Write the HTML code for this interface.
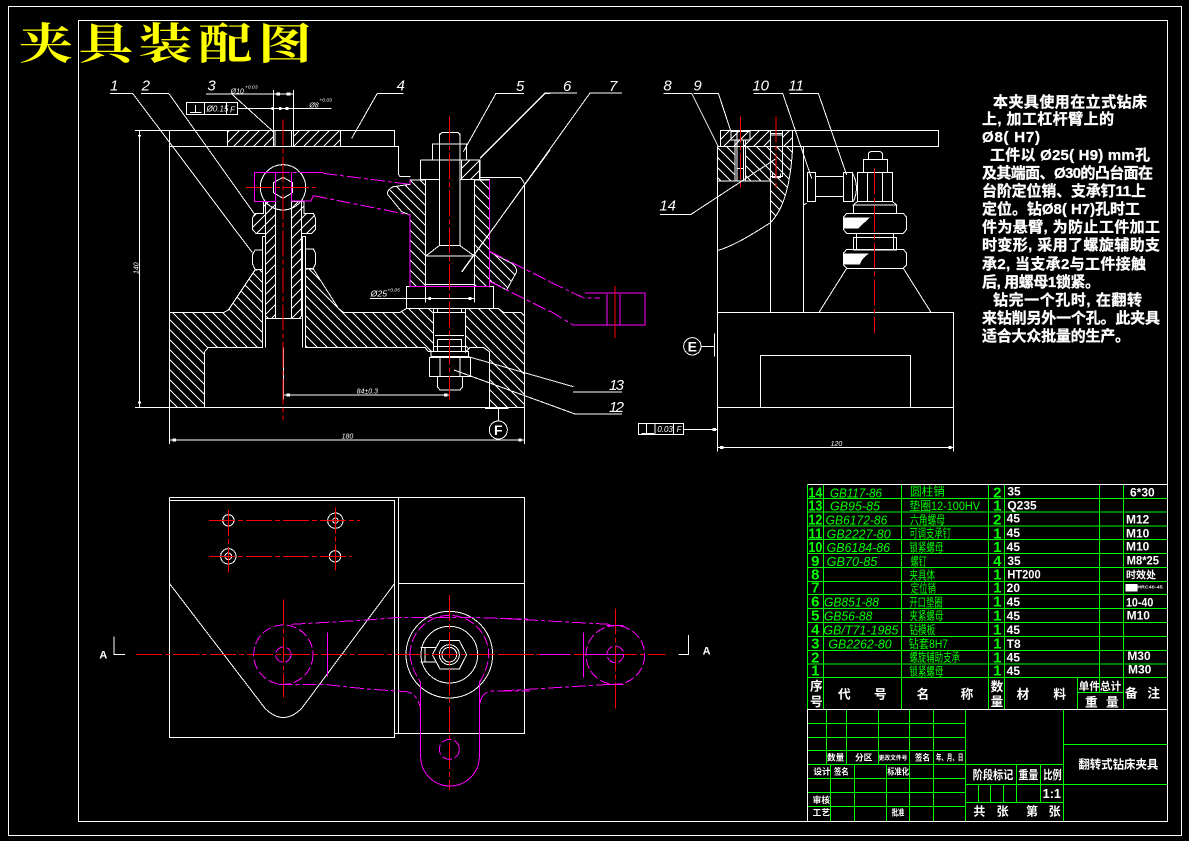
<!DOCTYPE html>
<html><head><meta charset="utf-8"><style>
html,body{margin:0;padding:0;background:#000;width:1189px;height:841px;overflow:hidden}
svg{display:block;position:absolute;left:0;top:0}
.s *{vector-effect:non-scaling-stroke}
.s{fill:none;stroke-width:1;shape-rendering:crispEdges}
.w{stroke:#fff}.m{stroke:#f0f}.r{stroke:#f00}.g{stroke:#0f0}
.md{stroke:#f0f;stroke-dasharray:14 3 4 3}
.rd{stroke:#f00;stroke-dasharray:26 3 5 3}
text{stroke:none;font-family:"Liberation Sans","Noto Sans CJK SC",sans-serif}
.n{fill:#fff;font-size:45px;font-style:italic}
.d{fill:#fff;font-size:21px;font-style:italic}
text.p{fill:#fff;font-size:15px;font-weight:bold;stroke:#fff;stroke-width:.3px}
.gn{fill:#0f0;font-size:45px;font-weight:bold;text-anchor:middle}
.gc{fill:#0f0;font-size:38px;font-style:italic}
.gm{fill:#0f0;font-size:35px}
.wm{fill:#fff;font-size:36px;font-weight:bold}
.wh{fill:#fff;font-size:38px;font-weight:bold}
.wt{fill:#fff;font-size:26px;font-weight:bold}
</style></head><body>
<svg width="1189" height="841" viewBox="0 0 1189 841">
<defs>
<pattern id="h1" patternUnits="userSpaceOnUse" width="30" height="30"><path d="M0 0L30 30M-3 27L3 33M27 -3L33 3" stroke="#fff" stroke-width="3" fill="none" shape-rendering="crispEdges"/></pattern>
<pattern id="h2" patternUnits="userSpaceOnUse" width="30" height="30"><path d="M0 30L30 0M-3 3L3 -3M27 33L33 27" stroke="#fff" stroke-width="3" fill="none" shape-rendering="crispEdges"/></pattern>
</defs>
<rect width="1189" height="841" fill="#000"/>
<g class="s">
<rect class="w" x="8.5" y="6.5" width="1173" height="829"/>
<rect class="w" x="78.5" y="20.5" width="1089" height="801"/>
</g>
<text transform="translate(19 59) scale(1 .8)" fill="#ff0" style="font-family:'Noto Serif CJK SC',serif;font-size:54px;font-weight:bold" textLength="293">夹具装配图</text>

<!-- FRONT VIEW -->
<g class="s" transform="translate(100 70) scale(.33333)">
<path class="w" fill="url(#h2)" d="M382 181H520V229H382ZM580 181H722V229H580Z"/>
<path class="w" fill="url(#h1)" d="M208 727H372L385 720L465 600L487 598V832H325L314 845V1012H208Z"/>
<path class="w" fill="url(#h1)" d="M617 597L640 597L715 715L730 727H900L920 715H1000V845H985L975 832H617ZM1097 715H1195L1210 727H1262L1273 738V1012H1168V845L1150 832H1110L1097 845Z"/>
<path class="w" fill="url(#h2)" d="M497 395H527V745H505L497 738ZM575 395H605V738L597 745H575Z"/>
<path class="w" fill="url(#h2)" d="M490 395V430H465L457 445V478L468 490H497V395ZM605 395V490H635L647 478V445L640 430H612V395Z"/>
<path class="w" d="M457 555L465 540H487V598H465L457 580ZM617 537H640L647 550V580L640 595H617Z"/>
<path class="w" d="M487 500H497V832M487 500V832M607 500H617V832M607 500V832M497 745H605M527 395V745M575 395V745"/>
<path class="w" fill="url(#h1)" d="M930 343V330H977V650H930V435L905 425L862 372Q862 358 880 350Z"/>
<path class="w" fill="url(#h1)" d="M1123 330H1168V545L1235 580Q1250 590 1250 605L1220 660L1168 632V650H1123Z"/>
<path class="w" fill="url(#h2)" d="M1085 270H1138V328H1085Z"/>
<path class="w" d="M105 181H884V229M105 1012H1273M208 181V1122M1273 340V1122M208 229H895V312L900 320H932M1138 322H1262L1273 340M118 181V1012M208 1110H1273"/>
<path class="w" d="M30 70H98L457 548M123 70H206L462 430M318 72H580M395 72L520 185M910 70H832L755 205M1272 70H1188L1090 245M1350 70H1335L1140 265M1350 240L1085 605"/>
<path class="w" d="M520 60V229M525 181V229M575 181V229M580 60V229M413 115H695"/>
<rect class="w" x="259" y="97" width="154" height="37"/><path class="w" d="M313 97V134M380 97V134M270 127H305M287 105V127"/>
<circle class="w" cx="549" cy="352" r="68"/>
<path class="w" d="M549 322L578 338V368L549 385L520 368V338Z"/>
<path class="w" d="M1018 190V527H1080V190M1018 195L1025 188H1075L1080 195V222M1018 195V222M997 270V222H1100V270M961 270H1140V328M961 270V328H1018M1080 328H1168M977 558L1018 527M1123 558L1080 527M977 558H1123M977 643H1123M920 650H1180V715H920Z"/>
<path class="w" d="M1000 715V845M1097 715V845M1013 715V727M1085 715V727M1000 727H1097M1005 797H1092M1012 808H1085V845M1012 808V845M1000 830H1097M993 845H1105V860H993ZM988 862H1112V920H988ZM1020 862V920M1080 862V920M1012 920V950L1020 960H1080L1088 950V920M1105 860L1420 950M1062 900L1425 1032"/>
<path class="w" d="M810 685H1123M977 650V697M1123 650V697M550 975H1048M1048 960V988M550 832V988M1155 1015H1225M1195 1015V1052"/>
<circle class="w" cx="1195" cy="1080" r="27"/>
<path class="w" stroke-width="3" d="M118 195V200M118 995V1000M218 1110H228M1255 1110H1265M560 975H570M1032 975H1042M985 685H993M1105 685H1115M530 72H540M560 72H572M515 115H522M537 115H545M557 115H565"/>
<path class="m" d="M463 307H527V395H463ZM575 307V395M600 307H670M575 393H633L640 377M930 330V343M930 435V650H1168M1168 330V650"/>
<path class="md" d="M670 310L930 343M640 377L930 435M1170 545L1350 635M1170 635L1350 725M527 307H600"/>
<path class="rd" d="M549 148V1050M1048 140V988M438 352H648"/>
<text class="n" x="30" y="62">1</text><text class="n" x="125" y="62">2</text><text class="n" x="322" y="62">3</text><text class="n" x="890" y="62">4</text>
<text class="d" x="392" y="70">Ø10</text><text class="d" x="435" y="55" style="font-size:15px">+0.03</text><text class="d" x="628" y="112">Ø8</text><text class="d" x="658" y="95" style="font-size:15px">+0.03</text>
<text class="d" x="320" y="125" style="font-size:24px">Ø0.15</text><text class="d" x="390" y="127" style="font-size:24px">F</text>
<text class="d" x="770" y="970">84±0.3</text><text class="d" x="725" y="1106">180</text><text class="d" transform="translate(116 612) rotate(-90)">140</text>
<text class="d" x="812" y="680" style="font-size:26px">Ø25</text><text class="d" x="862" y="665" style="font-size:15px">+0.05</text>
<text x="1195" y="1095" text-anchor="middle" style="fill:#fff;font-size:42px;font-weight:bold">F</text>
</g>
<g class="s">
<path class="w" d="M480 158L545 93H577M462 272L590 93H622M573 392H622M575 414H622"/>
<path class="m" d="M585 293H645V325H573M620 294V325M607 294V325"/>
<path class="md" d="M550 282L584 298H600M550 311L573 325"/>
<path class="r" d="M615 286V338"/>
</g>
<g style="font-style:italic;font-size:15px;fill:#fff">
<text x="516" y="91" fill="#fff">5</text>
<text x="563" y="91" fill="#fff">6</text>
<text x="609" y="91" fill="#fff">7</text>
<text x="609" y="390" fill="#fff" textLength="15">13</text>
<text x="609" y="412" fill="#fff" textLength="15">12</text>
</g>

<!-- SIDE VIEW -->
<g class="s" transform="translate(630 70) scale(.33333)">
<path class="w" fill="url(#h2)" d="M271 181H421V229H271ZM458 181H488V229H458Z"/>
<path class="w" fill="url(#h1)" d="M262 229H315V333H262ZM347 229H421V333H347ZM421 229H458V320H421ZM458 229H488Q480 400 421 458V320H458Z"/>
<path class="w" d="M271 181H926V229H271M926 181V229M262 229V727M421 229V727M262 333H421M520 229V727M262 727H971V1012H262ZM391 856H842V1012H391ZM262 1012V1145M971 1012V1145M262 1132H971M421 458Q320 525 262 542"/>
<path class="w" d="M303 185H360V210H303ZM321 185V210M315 210V333M347 210V333M321 210V333M341 210V333M321 295H341M421 190H458V320H421ZM421 195H458M428 310V322H452V310"/>
<path class="w" d="M100 70H185L265 230M190 70H265L303 185M370 70H458L545 325M478 70H565L650 315M90 433H183L435 268"/>
<path class="w" d="M532 308H557V395H532ZM557 320H640M557 380H640M640 308H667V395H640ZM682 308H788V395H682ZM712 308V395M757 308V395M700 268H772V308H700ZM715 268V250L722 244H750L758 250V268M715 268H758M682 395L670 405H800L788 395M670 405V430M800 405V430M520 405L530 400"/>
<path class="w" d="M667 308Q690 350 670 395"/>
<path d="M640 442H720L685 475H640ZM640 550H718Q695 565 690 583H640Z" fill="#fff" stroke="none"/>
<path class="w" d="M650 430H820L830 442V478L820 490H650L640 478V442ZM680 490V502M790 490V502M670 502H800V540H670ZM680 502V540M790 502V540M650 538H820L830 550V585L820 595H650L640 585V550ZM650 595L567 727M820 595L903 727"/>
<path class="w" d="M253 790V860M215 829H253M25 1060H161V1093H25ZM50 1060V1093M75 1060V1093M130 1060V1093M161 1078H262M35 1090H72"/>
<circle class="w" cx="187" cy="829" r="26"/>
<path class="w" stroke-width="3" d="M270 1132H280M955 1132H965M248 1078H258"/>
<path class="rd" d="M733 295V790M331 140V355M438 140V355"/>
<text class="n" x="100" y="62">8</text><text class="n" x="190" y="62">9</text><text class="n" x="367" y="62">10</text><text class="n" x="475" y="62">11</text><text class="n" x="88" y="422">14</text>
<text x="187" y="845" text-anchor="middle" style="fill:#fff;font-size:42px;font-weight:bold">E</text>
<text class="d" x="602" y="1128">120</text><text class="d" x="82" y="1086" style="font-size:24px">0.03</text><text class="d" x="140" y="1086" style="font-size:24px">F</text>
</g>

<!-- BOTTOM VIEW -->
<g class="s" transform="translate(100 490) scale(.33333)">
<path class="w" d="M208 22H1273V730H884M208 31H884V742H208ZM208 22V31M895 22V730M895 280H1273"/>
<path class="w" d="M208 280L495 655Q550 710 605 655L882 283"/>
<g class="w">
<circle cx="385" cy="91" r="17"/><circle cx="706" cy="92" r="23"/><circle cx="706" cy="92" r="8"/>
<circle cx="385" cy="199" r="23"/><circle cx="385" cy="199" r="10"/><circle cx="705" cy="199" r="17"/>
<circle cx="1048" cy="494" r="130"/><circle cx="1048" cy="494" r="85"/><circle cx="1048" cy="494" r="30"/><circle cx="1048" cy="494" r="22"/>
</g>
<path class="w" d="M1020 452H1078L1100 494L1078 537H1020L997 494ZM962 472H1010M962 516H1010M975 472V516M42 440V494H75"/>
<path class="rd" d="M327 91H780M327 199H755M385 60V248M706 52V245M108 494H1290M550 328V622M1048 315V900"/>
<g class="m" stroke-dasharray="10 3">
<circle cx="550" cy="494" r="89"/><circle cx="550" cy="494" r="23"/><circle cx="1048" cy="778" r="30"/>
<path d="M930 494A118 118 0 0 1 1166 494Q1166 530 1140 575M930 494Q932 530 960 575"/>
</g>
<path class="m" d="M962 575V800A88 88 0 0 0 1138 800V575M683 427V560"/>
<path class="md" d="M575 403L800 390L900 382H1100L1290 388M535 584H680L800 597L920 605Q950 610 960 650M1140 640Q1145 605 1180 603H1290"/>
<text x="-2" y="506" style="fill:#fff;font-size:33px;font-weight:bold">A</text>
</g>
<g class="s" transform="translate(500 590) scale(.33333)">
<path class="rd" d="M0 193H497M346 55V355"/>
<path class="m" d="M120 193H210M260 193H370M250 127V263M320 106H370M320 283H370"/>
<path class="md" d="M0 85L330 103M0 303L330 283"/>
<g class="m" stroke-dasharray="10 3"><circle cx="346" cy="195" r="88"/><circle cx="346" cy="193" r="25"/></g>
<path class="w" d="M565 135V193H535"/>
<text x="608" y="193" style="fill:#fff;font-size:33px;font-weight:bold">A</text>
</g>

<!-- PARTS TABLE -->
<g class="s" transform="translate(800 480) scale(.33333)">
<path class="g" d="M22 13V688M70 13V688M304 13V688M565 13V688M613 13V688M898 13V637M970 13V688M1102 13V688M832 592V688M832 637H970M22 55H1102M22 96H1102M22 138H1102M22 179H1102M22 221H1102M22 263H1102M22 305H1102M22 344H1102M22 386H1102M22 428H1102M22 470H1102M22 512H1102M22 552H1102M22 592H1102"/>
<path class="w" d="M22 13H1102V688H22"/>
<text class="gn" x="46" y="52" textLength="42" lengthAdjust="spacingAndGlyphs">14</text><text class="gn" x="46" y="92" textLength="42" lengthAdjust="spacingAndGlyphs">13</text><text class="gn" x="46" y="133" textLength="42" lengthAdjust="spacingAndGlyphs">12</text><text class="gn" x="46" y="175" textLength="42" lengthAdjust="spacingAndGlyphs">11</text><text class="gn" x="46" y="216" textLength="42" lengthAdjust="spacingAndGlyphs">10</text><text class="gn" x="46" y="258">9</text><text class="gn" x="46" y="298">8</text><text class="gn" x="46" y="338">7</text><text class="gn" x="46" y="380">6</text><text class="gn" x="46" y="422">5</text><text class="gn" x="46" y="464">4</text><text class="gn" x="46" y="506">3</text><text class="gn" x="46" y="547">2</text><text class="gn" x="46" y="587">1</text>
<text class="gc" x="90" y="52" textLength="156" lengthAdjust="spacingAndGlyphs">GB117-86</text>
<text class="gc" x="90" y="92" textLength="150" lengthAdjust="spacingAndGlyphs">GB95-85</text>
<text class="gc" x="77" y="133" textLength="185" lengthAdjust="spacingAndGlyphs">GB6172-86</text>
<text class="gc" x="80" y="175" textLength="192" lengthAdjust="spacingAndGlyphs">GB2227-80</text>
<text class="gc" x="80" y="216" textLength="190" lengthAdjust="spacingAndGlyphs">GB6184-86</text>
<text class="gc" x="80" y="258" textLength="152" lengthAdjust="spacingAndGlyphs">GB70-85</text>
<text class="gc" x="72" y="380" textLength="165" lengthAdjust="spacingAndGlyphs">GB851-88</text>
<text class="gc" x="72" y="422" textLength="145" lengthAdjust="spacingAndGlyphs">GB56-88</text>
<text class="gc" x="70" y="464" textLength="225" lengthAdjust="spacingAndGlyphs">GB/T71-1985</text>
<text class="gc" x="85" y="506" textLength="190" lengthAdjust="spacingAndGlyphs">GB2262-80</text>
<text class="gm" x="330" y="47" textLength="105" lengthAdjust="spacingAndGlyphs">圆柱销</text>
<text class="gm" x="328" y="90" textLength="212" lengthAdjust="spacingAndGlyphs">垫圈12-100HV</text>
<text class="gm" x="330" y="132" textLength="105" lengthAdjust="spacingAndGlyphs">六角螺母</text>
<text class="gm" x="328" y="173" textLength="125" lengthAdjust="spacingAndGlyphs">可调支承钉</text>
<text class="gm" x="328" y="214" textLength="102" lengthAdjust="spacingAndGlyphs">锁紧螺母</text>
<text class="gm" x="332" y="256" textLength="48" lengthAdjust="spacingAndGlyphs">螺钉</text>
<text class="gm" x="328" y="298" textLength="77" lengthAdjust="spacingAndGlyphs">夹具体</text>
<text class="gm" x="332" y="338" textLength="76" lengthAdjust="spacingAndGlyphs">定位销</text>
<text class="gm" x="328" y="380" textLength="100" lengthAdjust="spacingAndGlyphs">开口垫圈</text>
<text class="gm" x="328" y="420" textLength="102" lengthAdjust="spacingAndGlyphs">夹紧螺母</text>
<text class="gm" x="328" y="462" textLength="78" lengthAdjust="spacingAndGlyphs">钻模板</text>
<text class="gm" x="326" y="504" textLength="118" lengthAdjust="spacingAndGlyphs">钻套8H7</text>
<text class="gm" x="328" y="545" textLength="152" lengthAdjust="spacingAndGlyphs">螺旋辅助支承</text>
<text class="gm" x="328" y="586" textLength="102" lengthAdjust="spacingAndGlyphs">锁紧螺母</text>
<text class="gn" x="592" y="52">2</text><text class="gn" x="592" y="92">1</text><text class="gn" x="592" y="133">2</text><text class="gn" x="592" y="175">1</text><text class="gn" x="592" y="216">1</text><text class="gn" x="592" y="258">4</text><text class="gn" x="592" y="298">1</text><text class="gn" x="592" y="338">1</text><text class="gn" x="592" y="380">1</text><text class="gn" x="592" y="422">1</text><text class="gn" x="592" y="464">1</text><text class="gn" x="592" y="506">1</text><text class="gn" x="592" y="547">1</text><text class="gn" x="592" y="587">1</text>
<text class="wm" x="622" y="47">35</text><text class="wm" x="622" y="89">Q235</text><text class="wm" x="620" y="127">45</text><text class="wm" x="620" y="171">45</text><text class="wm" x="620" y="213">45</text><text class="wm" x="622" y="255">35</text><text class="wm" x="622" y="296" textLength="100" lengthAdjust="spacingAndGlyphs">HT200</text><text class="wm" x="620" y="336">20</text><text class="wm" x="620" y="378">45</text><text class="wm" x="620" y="420">45</text><text class="wm" x="620" y="462">45</text><text class="wm" x="620" y="504">T8</text><text class="wm" x="620" y="545">45</text><text class="wm" x="620" y="585">45</text>
<text class="wm" x="990" y="50">6*30</text><text class="wm" x="978" y="131">M12</text><text class="wm" x="978" y="173">M10</text><text class="wm" x="978" y="211">M10</text><text class="wm" x="980" y="254" textLength="97" lengthAdjust="spacingAndGlyphs">M8*25</text><text class="wm" x="978" y="296" style="font-size:30px" textLength="90" lengthAdjust="spacingAndGlyphs">时效处</text><rect x="976" y="312" width="36" height="22" fill="#fff" stroke="none"/><text x="1012" y="326" style="fill:#fff;font-size:15px;font-weight:bold" textLength="76">HRC40-45</text><text class="wm" x="978" y="380" textLength="82" lengthAdjust="spacingAndGlyphs">10-40</text><text class="wm" x="980" y="418">M10</text><text class="wm" x="982" y="540">M30</text><text class="wm" x="984" y="580">M30</text>
<text class="wh" x="30" y="632">序</text><text class="wh" x="30" y="678">号</text>
<text class="wh" x="114" y="655">代</text><text class="wh" x="222" y="655">号</text>
<text class="wh" x="350" y="655">名</text><text class="wh" x="482" y="655">称</text>
<text class="wh" x="572" y="633">数</text><text class="wh" x="572" y="678">量</text>
<text class="wh" x="650" y="655">材</text><text class="wh" x="760" y="655">料</text>
<text x="836" y="630" style="fill:#fff;font-size:32px;font-weight:bold" textLength="128" lengthAdjust="spacingAndGlyphs">单件总计</text>
<text class="wh" x="855" y="680">重</text><text class="wh" x="918" y="680">量</text>
<text class="wh" x="975" y="652">备</text><text class="wh" x="1042" y="652">注</text>
</g>

<!-- TITLE BLOCK -->
<g class="s" transform="translate(800 705) scale(.33333)">
<path class="g" d="M22 55H496M22 97H496M22 136H496M22 178H790M22 220H496M22 262H496M22 304H496M22 13V349M79 13V178M139 13V178M235 13V178M328 13V349M400 13V349M496 13V349M91 178V349M163 178V349M259 178V349M790 13V349M790 118H1102M790 238H1102M496 238H790M496 292H790M650 178V292M722 178V292M535 238V292M572 238V292M610 238V292"/>
<path class="w" d="M22 13H1102V349H22Z"/>
<text class="wt" x="81" y="167">数量</text><text class="wt" x="165" y="167">分区</text><text x="236" y="165" style="fill:#fff;font-size:18px;font-weight:bold" textLength="86" lengthAdjust="spacingAndGlyphs">更改文件号</text><text class="wt" x="345" y="167" textLength="45" lengthAdjust="spacingAndGlyphs">签名</text><text class="wt" x="408" y="167" textLength="82" lengthAdjust="spacingAndGlyphs">年、月、日</text>
<text class="wt" x="40" y="208">设计</text><text class="wt" x="102" y="208" textLength="44" lengthAdjust="spacingAndGlyphs">签名</text><text class="wt" x="262" y="208" textLength="65" lengthAdjust="spacingAndGlyphs">标准化</text>
<text class="wt" x="38" y="294">审核</text><text class="wt" x="38" y="332">工艺</text><text class="wt" x="275" y="332" textLength="38" lengthAdjust="spacingAndGlyphs">批准</text>
<text class="wm" x="518" y="222" textLength="122" lengthAdjust="spacingAndGlyphs">阶段标记</text><text class="wm" x="655" y="222" textLength="60" lengthAdjust="spacingAndGlyphs">重量</text><text class="wm" x="730" y="222" textLength="55" lengthAdjust="spacingAndGlyphs">比例</text>
<text class="wm" x="728" y="279" style="font-size:38px">1:1</text>
<text class="wm" x="520" y="331">共</text><text class="wm" x="590" y="331">张</text><text class="wm" x="678" y="331">第</text><text class="wm" x="746" y="331">张</text>
<text class="wm" x="835" y="191" textLength="240" lengthAdjust="spacingAndGlyphs">翻转式钻床夹具</text>
</g>

<!-- NOTES -->
<g>
<text class="p" x="993" y="107" textLength="154">本夹具使用在立式钻床</text>
<text class="p" x="982" y="124" textLength="132">上, 加工杠杆臂上的</text>
<text class="p" x="982" y="142" textLength="58">Ø8( H7)</text>
<text class="p" x="990" y="160" textLength="160">工件以 Ø25( H9) mm孔</text>
<text class="p" x="982" y="178" textLength="171">及其端面、Ø30的凸台面在</text>
<text class="p" x="982" y="196" textLength="164">台阶定位销、支承钉11上</text>
<text class="p" x="982" y="214" textLength="158">定位。钻Ø8( H7)孔时工</text>
<text class="p" x="982" y="232" textLength="178">件为悬臂, 为防止工件加工</text>
<text class="p" x="982" y="250" textLength="178">时变形, 采用了螺旋辅助支</text>
<text class="p" x="982" y="269" textLength="164">承2, 当支承2与工件接触</text>
<text class="p" x="982" y="287" textLength="118">后, 用螺母1锁紧。</text>
<text class="p" x="993" y="305" textLength="149">钻完一个孔时, 在翻转</text>
<text class="p" x="982" y="323" textLength="178">来钻削另外一个孔。此夹具</text>
<text class="p" x="982" y="341" textLength="148">适合大众批量的生产。</text>
</g>
</svg>
</body></html>
